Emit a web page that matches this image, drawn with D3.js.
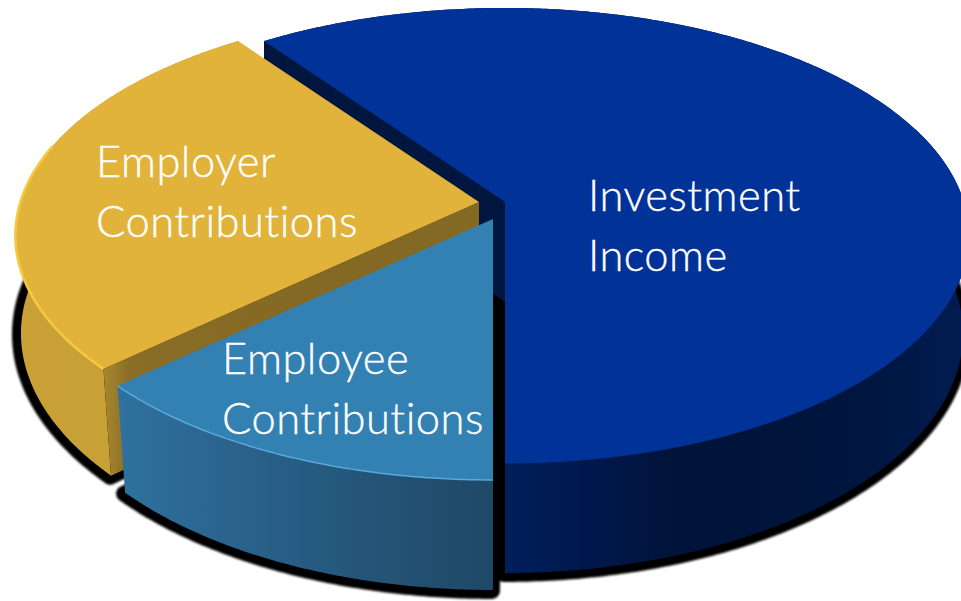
<!DOCTYPE html>
<html>
<head>
<meta charset="utf-8">
<script src="https://cdn.jsdelivr.net/npm/d3@7"></script>
<style>
  html, body { margin: 0; padding: 0; background: #fff; }
  svg { display: block; }
  text { font-family: Lato, "Open Sans", sans-serif; font-weight: 300; fill: #fff; font-size: 43.5px; letter-spacing: .45px; font-variant-ligatures: none; stroke: #fff; stroke-width: .35px; }
</style>
</head>
<body>
<div id="chart"></div>
<script>
// share of each slice, clockwise from the back-left cut
var categories = ['Investment Income', 'Employee Contributions', 'Employer Contributions'];
var shares = [60, 13.2, 26.8];

var width = 961, height = 601;

var svg = d3.select('#chart').append('svg')
  .attr('width', width)
  .attr('height', height);

// tilted disc, with a little perspective so the near half is bigger
var rx = 458.6, ry = 222.6, persp = .147;

var rad = Math.PI / 180;
var pie = d3.pie().sort(null).value(function(d){ return d; })
  .startAngle(-36 * rad).endAngle(324 * rad);
var arcs = pie(shares);

// exploded slices: where each tip sits, and how each one is painted
var looks = [
  { tip: [505, 202], top: '#003297', wall: 'wall0', cut: '#00163f', edge: '#04349c', edgeW: 1 },
  { tip: [493, 219], top: '#3380b3', wall: 'wall1', cut: null, edge: '#5aa8dc', edgeW: 1.5 },
  { tip: [479, 202], top: '#e1b33b', wall: 'wall2', cut: 'url(#cut2)', edge: '#f8c93f', edgeW: 2.5 }
];

function project(look, a, r, low){
  var x = r * Math.sin(a), y = -r * Math.cos(a);
  var w = 1 - persp * y;
  var sx = rx * x / w, sy = ry * y / w;
  if(low){
    // floor of the disc: pulled in toward the tip, deeper at the front
    sx *= .99 - .015 * y;
    sy += 100 + 10 * y;
  }
  return [look.tip[0] + sx, look.tip[1] + sy];
}

var line = d3.line();

function rimPoints(look, a0, a1, low){
  var n = Math.max(2, Math.ceil(Math.abs(a1 - a0) / (rad / 2)));
  return d3.range(n + 1).map(function(i){
    return project(look, a0 + (a1 - a0) * i / n, 1, low);
  });
}

function faceD(look, d, low){
  return line([project(look, 0, 0, low)].concat(rimPoints(look, d.startAngle, d.endAngle, low))) + 'Z';
}

function wallD(look, d){
  return line(rimPoints(look, d.startAngle, d.endAngle, false)
    .concat(rimPoints(look, d.endAngle, d.startAngle, true))) + 'Z';
}

function cutD(look, a){
  return line([
    project(look, 0, 0, false),
    project(look, a, 1, false),
    project(look, a, 1, true),
    project(look, 0, 0, true)
  ]) + 'Z';
}

var defs = svg.append('defs');

var blur = defs.append('filter').attr('id', 'soft')
  .attr('x', '-5%').attr('y', '-5%').attr('width', '110%').attr('height', '110%');
blur.append('feGaussianBlur').attr('stdDeviation', 1.2);

var edgeBlur = defs.append('filter').attr('id', 'edgeSoft')
  .attr('x', '-5%').attr('y', '-5%').attr('width', '110%').attr('height', '110%');
edgeBlur.append('feGaussianBlur').attr('stdDeviation', .6);

function sideGradient(id, x0, x1, stops){
  var g = defs.append('linearGradient').attr('id', id)
    .attr('gradientUnits', 'userSpaceOnUse')
    .attr('x1', x0).attr('y1', 0).attr('x2', x1).attr('y2', 0);
  stops.forEach(function(s){
    g.append('stop').attr('offset', s[0]).attr('stop-color', s[1]);
  });
}

sideGradient('wall0', 505, 961, [[0, '#001f5c'], [.2, '#00174a'], [.4, '#001338'], [.8, '#00163f'], [1, '#001c50']]);
sideGradient('wall1', 117, 492, [[0, '#2f719f'], [.4, '#285f87'], [1, '#1f4866']]);
sideGradient('wall2', 20, 113, [[0, '#c9a136'], [1, '#c7a136']]);
sideGradient('cut2', 105, 300, [[0, '#a5862e'], [.12, '#8a6e26'], [1, '#846924']]);

// drop shadow sits under everything
var shadow = svg.append('g').attr('filter', 'url(#soft)');

shadow.selectAll('path')
  .data(arcs)
  .enter()
  .append('path')
  .attr('d', function(d, i){ return faceD(looks[i], d, true); })
  .attr('transform', 'translate(-1,1)')
  .attr('fill', '#000')
  .attr('stroke', '#000')
  .attr('stroke-width', 16)
  .attr('stroke-linejoin', 'round');

// the gap between the near slice and the blue wall goes black too
shadow.append('path')
  .attr('d', faceD(looks[1], arcs[1], false))
  .attr('fill', '#000')
  .attr('stroke', '#000')
  .attr('stroke-width', 16)
  .attr('stroke-linejoin', 'round');

// back to front: blue, yellow, then the near blue slice
[0, 2, 1].forEach(function(i){
  var d = arcs[i], look = looks[i];
  var g = svg.append('g').attr('class', 'slice').datum(d);

  g.append('path')
    .attr('d', wallD(look, d))
    .attr('fill', 'url(#' + look.wall + ')');

  if(look.cut){
    g.append('path')
      .attr('d', cutD(look, d.startAngle))
      .attr('fill', look.cut);
  }

  g.append('path')
    .attr('d', faceD(look, d, false))
    .attr('fill', look.top);

  // lit rim along the front
  var a0 = Math.max(d.startAngle, 70 * rad);
  var a1 = Math.min(d.endAngle, 285 * rad);
  g.append('path')
    .attr('d', line(rimPoints(look, a0, a1, false)))
    .attr('fill', 'none')
    .attr('stroke', look.edge)
    .attr('stroke-width', look.edgeW)
    .attr('filter', 'url(#edgeSoft)');
});

var labels = [
  { lines: ['Investment', 'Income'], x: 588, y: [211, 271] },
  { lines: ['Employer', 'Contributions'], x: 96, y: [177, 237] },
  { lines: ['Employee', 'Contributions'], x: 222, y: [374, 434] }
];

labels.forEach(function(l){
  l.lines.forEach(function(t, i){
    svg.append('text').attr('x', l.x).attr('y', l.y[i]).text(t);
  });
});
</script>
</body>
</html>
